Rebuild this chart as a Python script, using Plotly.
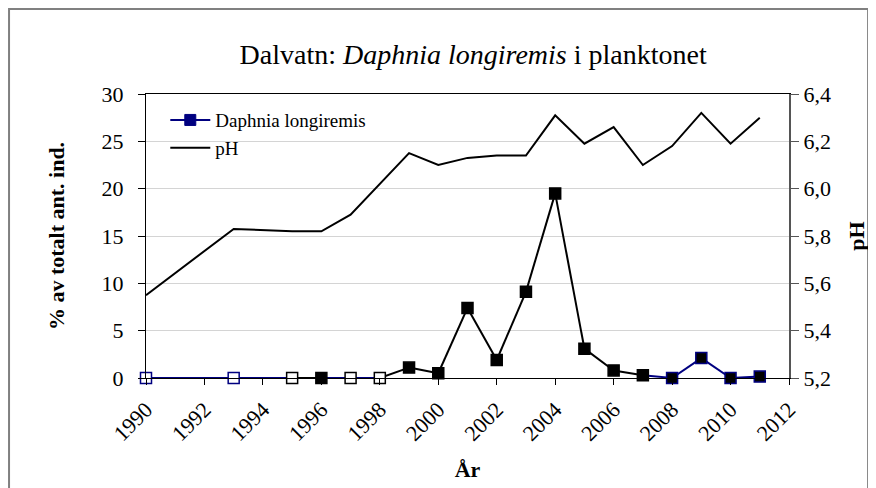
import plotly.graph_objects as go

# Data
years = [1990, 1993, 1995, 1996, 1997, 1998, 1999, 2000, 2001, 2002, 2003,
         2004, 2005, 2006, 2007, 2008, 2009, 2010, 2011]
daphnia = [0, 0, 0, 0, 0, 0, 1.1, 0.5, 7.4, 1.9, 9.1,
           19.5, 3.1, 0.8, 0.3, 0, 2.1, 0, 0.15]
ph = [5.55, 5.83, 5.82, 5.82, 5.89, 6.02, 6.15, 6.10, 6.13, 6.14, 6.14,
      6.31, 6.19, 6.26, 6.10, 6.18, 6.32, 6.19, 6.30]

NAVY = "#000080"
BLACK = "#000000"
WHITE = "#ffffff"
SERIF = "Liberation Serif, Times New Roman, DejaVu Serif, serif"

# per-point styling (as in the original spreadsheet chart)
seg_colors = [NAVY, NAVY, BLACK, NAVY, NAVY, BLACK, BLACK, BLACK, BLACK,
              BLACK, BLACK, BLACK, BLACK, BLACK, NAVY, NAVY, NAVY, NAVY]
fill_colors = [WHITE, WHITE, WHITE, BLACK, WHITE, WHITE] + [BLACK] * 13
edge_colors = [NAVY, NAVY] + [BLACK] * 13 + [NAVY] * 4

fig = go.Figure()

# pH line on the secondary axis
fig.add_trace(go.Scatter(
    x=years, y=ph, yaxis="y2", mode="lines", name="pH",
    line=dict(color=BLACK, width=2), showlegend=False,
))

# Daphnia segments, each with its own colour
for i, c in enumerate(seg_colors):
    fig.add_trace(go.Scatter(
        x=years[i:i + 2], y=daphnia[i:i + 2], mode="lines",
        line=dict(color=c, width=2), showlegend=False, hoverinfo="skip",
        cliponaxis=False,
    ))

fig.add_trace(go.Scatter(
    x=years, y=daphnia, mode="markers", showlegend=False, cliponaxis=False,
    marker=dict(symbol="square", size=11, color=fill_colors,
                line=dict(color=edge_colors, width=1.5)),
))

# legend entries
fig.add_trace(go.Scatter(
    x=[None], y=[None], mode="lines+markers", name="Daphnia longiremis",
    line=dict(color=NAVY, width=2),
    marker=dict(symbol="square", size=11, color=NAVY,
                line=dict(color=NAVY, width=1)),
))
fig.add_trace(go.Scatter(
    x=[None], y=[None], mode="lines", name="pH",
    line=dict(color=BLACK, width=2),
))

# the page adds an 8px body margin, so margins are shifted by 8px
fig.update_layout(
    width=876, height=488,
    margin=dict(l=138, r=95, t=86, b=118, autoexpand=False),
    paper_bgcolor="white", plot_bgcolor="white",
    separators=", ",
    font=dict(family=SERIF, size=22, color="black"),
    title=dict(text="Dalvatn: <i>Daphnia longiremis</i> i planktonet",
               x=0.531, xanchor="center", y=0.905, yanchor="middle",
               font=dict(family=SERIF, size=28)),
    xaxis=dict(
        range=[1990, 2012], dtick=2, tick0=1990, tickangle=-45,
        showgrid=False, zeroline=False,
        showline=True, linecolor=BLACK, linewidth=1, mirror=True,
        ticks="outside", ticklen=6, tickcolor=BLACK, ticklabelstandoff=3,
        title=dict(text="<b>År</b>", standoff=16, font=dict(size=22)),
    ),
    yaxis=dict(
        range=[0, 30], dtick=5, zeroline=False,
        showgrid=True, gridcolor="#d4d4d4", gridwidth=1,
        showline=True, linecolor=BLACK, linewidth=1,
        ticks="outside", ticklen=7, tickcolor=BLACK, ticklabelstandoff=10,
        title=dict(text="<b>% av totalt ant. ind.</b>", standoff=30,
                   font=dict(size=22)),
    ),
    yaxis2=dict(
        range=[5.2, 6.4], dtick=0.2, tick0=5.2, tickformat=".1f",
        overlaying="y", side="right", showgrid=False, zeroline=False,
        showline=True, linecolor="#555555", linewidth=2,
        ticks="outside", ticklen=8, tickcolor="#555555",
        title=dict(text="<b>pH</b>", standoff=19, font=dict(size=22)),
    ),
    legend=dict(
        x=0.03, y=0.975, xanchor="left", yanchor="top",
        bgcolor="rgba(0,0,0,0)", font=dict(family=SERIF, size=19),
        tracegroupgap=0, itemwidth=40,
    ),
    shapes=[dict(type="rect", xref="paper", yref="paper",
                 x0=-0.213, x1=1.123, y0=-0.45, y1=1.299,
                 line=dict(color="#808080", width=2))],
)

fig.write_html("out.html")
